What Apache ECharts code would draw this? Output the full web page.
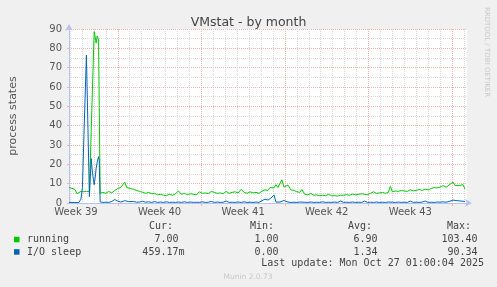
<!DOCTYPE html>
<html><head><meta charset="utf-8">
<script src="https://cdn.jsdelivr.net/npm/echarts@6/dist/echarts.min.js"></script>
<style>html,body{margin:0;padding:0;background:#f0f0f0}#c{width:497px;height:287px}</style>
</head><body><div id="c"></div>
<script>
// time in hours since the left edge of the graph
const hours = [
  0,6,12,16,20,24,27,30,35,38,41,44.6,47,50.6,52.6,54.6,56.6,59.4,60.8,62.6,64.5,
  68,74,80,86,92,98,104,
  108,112,116,120,124,
  130,136,142,148,154,160,166,172,178,184,190,196,202,208,214,220,226,232,238,244,250,256,262,268,274,280,286,292,298,304,310,316,322,328,334,340,346,
  352,358,364,370,376,382,388,394,400,
  404,408,412,416,420,424,428,432,436,440,
  446,452,458,464,468,
  474,480,486,492,498,504,510,516,522,528,534,540,546,552,558,564,570,576,582,588,594,600,606,612,618,624,630,636,642,
  646,650,
  656,662,668,674,680,686,692,698,704,710,716,722,728,734,740,746,752,758,764,
  768,772,776,780,784,788,792,796
];
const running = [
  8.0,7.6,7.0,4.8,4.5,6.0,5.5,5.8,6.0,5.5,6.0,37,58,88.6,86,82.7,86.4,84.3,84,5.0,5.2,
  5.5,5.0,6.0,5.2,6.5,7.5,8.0,
  7.0,10.8,8.0,9.0,7.5,
  7.0,6.5,6.0,5.5,5.0,5.5,4.8,5.0,4.2,4.5,4.0,3.8,4.5,4.0,4.8,6.2,4.5,5.0,4.3,4.8,4.5,4.2,5.8,5.0,5.2,4.8,6.0,5.5,5.0,5.2,4.8,6.0,5.0,5.5,5.8,5.2,7.0,
  5.5,5.0,5.8,5.2,5.5,5.0,6.2,6.8,6.5,
  8.0,8.5,7.8,9.5,8.0,9.0,12.0,8.2,8.8,9.3,
  6.8,6.5,5.8,5.5,7.0,
  4.5,4.2,5.0,4.0,4.2,3.8,4.0,3.8,4.5,3.7,3.8,3.6,4.0,4.0,4.3,4.0,4.6,4.2,4.5,4.8,4.5,4.3,5.0,5.8,5.0,5.2,5.5,5.0,5.5,
  8.6,5.8,
  6.2,6.0,6.5,6.2,6.0,6.8,6.3,6.5,7.0,6.5,7.2,6.8,7.5,8.0,7.8,8.3,9.0,8.2,9.3,
  9.0,10.8,9.0,9.5,9.0,9.3,9.5,7.2
];
const ioSleep = [
  0.3,0.3,0.2,0.2,0.3,2.0,8.0,35,76.5,40,3.3,23,16,9.5,13,18,21,24,22,0.6,0.4,
  0.3,0.4,0.3,0.8,1.8,1.0,0.5,
  0.6,1.2,0.5,0.7,0.4,
  0.8,0.4,0.5,0.9,0.4,0.6,0.3,0.7,0.3,0.5,0.3,0.6,0.3,0.4,0.3,0.5,0.3,0.6,0.3,0.5,0.3,0.4,0.3,0.6,0.3,0.4,0.8,0.3,0.5,0.3,0.4,1.0,0.3,0.4,0.3,0.5,0.3,
  0.6,0.3,0.4,0.3,0.5,0.3,1.2,2.0,1.5,
  2.5,3.0,4.2,0.5,0.6,0.5,0.8,1.3,0.4,0.5,
  0.3,0.4,0.3,0.5,0.3,
  0.4,0.3,0.5,0.3,0.4,0.3,0.6,0.3,0.4,0.3,0.5,0.3,1.0,0.3,0.4,0.3,0.5,0.3,0.4,0.3,1.0,0.3,0.4,0.3,0.5,0.3,0.4,0.3,0.5,
  1.0,0.4,
  0.3,0.5,0.3,0.4,0.3,1.0,0.3,0.4,0.3,0.5,1.0,0.3,0.4,0.3,0.5,0.4,0.6,0.4,0.8,
  1.2,1.5,1.3,1.2,1.4,1.0,1.2,0.8
];
const weekLabels = ['Week 39','Week 40','Week 41','Week 42','Week 43'];
const seriesNames = ['running','I/O sleep'];
const statHeaders = ['Cur:','Min:','Avg:','Max:'];
const runningStats = ['7.00','1.00','6.90','103.40'];
const ioSleepStats = ['459.17m','0.00','1.34','90.34'];
const lastUpdate = 'Last update: Mon Oct 27 01:00:04 2025';

const GREEN = '#00cc00', BLUE = '#0066b3';
const RED_GRID = '#f0b0b0', GREY_GRID = '#d8d8d8', AXIS = '#b8c2f0';
const TOTAL_H = 800;          // hours shown
const SLOT_H = 2;             // scaffold slot length (hours)
const FIRST_DAY_H = 2, FIRST_MONDAY_H = 98, WEEK_H = 168;
const slots = [];
for (let h = 0; h <= TOTAL_H; h += SLOT_H) slots.push(String(h));
const isDay = i => ((i * SLOT_H - FIRST_DAY_H) % 24 + 24) % 24 === 0;
const isMonday = i => ((i * SLOT_H - FIRST_MONDAY_H) % WEEK_H + WEEK_H) % WEEK_H === 0;
const isMidWeek = i => ((i * SLOT_H - (FIRST_MONDAY_H - WEEK_H / 2)) % WEEK_H + WEEK_H) % WEEK_H === 0;

const chart = echarts.init(document.getElementById('c'), null, {renderer: 'canvas'});
const MONO = '"DejaVu Sans Mono", monospace';
const SANS = '"DejaVu Sans", sans-serif';

const graphics = [];
const colLeft = [149, 250, 348, 447];
const colRight = [178.5, 278.5, 377.5, 477.5];
statHeaders.forEach((t, i) => graphics.push({type: 'text', style: {text: t, x: colLeft[i], y: 226.5, fill: '#444', font: '10px ' + MONO, align: 'left', verticalAlign: 'middle'}}));
[[runningStats, GREEN, 239.8], [ioSleepStats, BLUE, 252.2]].forEach(([vals, col, y], r) => {
  graphics.push({type: 'rect', shape: {x: 14, y: y - 3, width: 5.5, height: 5.5}, style: {fill: col}});
  graphics.push({type: 'text', style: {text: seriesNames[r], x: 27, y: y, fill: '#444', font: '10px ' + MONO, align: 'left', verticalAlign: 'middle'}});
  vals.forEach((v, i) => {
    const hasUnit = /[a-zA-Z]$/.test(v);
    graphics.push({type: 'text', style: {text: v, x: colRight[i] + (hasUnit ? 6 : 0), y: y, fill: '#444', font: '10px ' + MONO, align: 'right', verticalAlign: 'middle'}});
  });
});
graphics.push({type: 'text', style: {text: lastUpdate, x: 484, y: 263.8, fill: '#444', font: '10px ' + MONO, align: 'right', verticalAlign: 'middle'}});
graphics.push({type: 'text', style: {text: 'Munin 2.0.73', x: 248, y: 277, fill: '#c8c8c8', font: '7.5px ' + SANS, align: 'center', verticalAlign: 'middle'}});
graphics.push({type: 'text', x: 487, y: 52, rotation: -Math.PI / 2, style: {text: 'RRDTOOL / TOBI OETIKER', x: 0, y: 0, fill: '#c8c8c8', font: '7px ' + SANS, align: 'center', verticalAlign: 'middle'}});

const option = {
  backgroundColor: '#f0f0f0',
  animation: false,
  title: {text: 'VMstat - by month', left: 'center', top: 11,
    textStyle: {fontFamily: SANS, fontSize: 12.5, fontWeight: 'normal', color: '#444'}},
  grid: {left: 67, right: 30, top: 29, bottom: 84, show: true, backgroundColor: '#ffffff', borderWidth: 0, containLabel: false},
  xAxis: [
    {type: 'value', min: 0, max: TOTAL_H, position: 'bottom',
      axisLine: {show: true, lineStyle: {color: AXIS}, symbol: ['none', 'arrow'], symbolSize: [6, 7], symbolOffset: [0, 5]},
      axisTick: {show: false}, axisLabel: {show: false}, splitLine: {show: false}},
    {type: 'category', data: slots, boundaryGap: false, position: 'bottom',
      axisLine: {show: false}, axisTick: {show: false}, axisLabel: {show: false},
      splitLine: {show: true, interval: (i) => isDay(i) && !isMonday(i), lineStyle: {color: GREY_GRID, type: [1, 1], width: 1}}},
    {type: 'category', data: slots, boundaryGap: false, position: 'bottom',
      axisLine: {show: false},
      axisTick: {show: true, interval: (i) => isMonday(i), length: 3, lineStyle: {color: RED_GRID}},
      axisLabel: {show: true, interval: (i) => isMidWeek(i), margin: 4, color: '#555', fontSize: 10, fontFamily: SANS,
        formatter: (v, i) => weekLabels[Math.round((i * SLOT_H - (FIRST_MONDAY_H - WEEK_H / 2)) / WEEK_H)] || ''},
      splitLine: {show: true, interval: (i) => isMonday(i), lineStyle: {color: RED_GRID, type: [1, 1], width: 1}}}
  ],
  yAxis: {type: 'value', min: 0, max: 90, interval: 10,
    name: 'process states', nameLocation: 'middle', nameGap: 50, nameRotate: 90,
    nameTextStyle: {color: '#555', fontSize: 11, fontFamily: SANS},
    axisLine: {show: true, lineStyle: {color: AXIS}, symbol: ['none', 'arrow'], symbolSize: [6, 7], symbolOffset: [0, 5]},
    axisTick: {show: true, length: 2, lineStyle: {color: RED_GRID}},
    minorTick: {show: false, splitNumber: 2},
    axisLabel: {color: '#555', fontSize: 10, margin: 7, fontFamily: SANS},
    splitLine: {show: true, lineStyle: {color: RED_GRID, type: [1, 1], width: 1}},
    minorSplitLine: {show: true, lineStyle: {color: GREY_GRID, type: [1, 1], width: 1}}},
  series: [
    {name: seriesNames[0], type: 'line', xAxisIndex: 0, yAxisIndex: 0, showSymbol: false, symbol: 'none',
      lineStyle: {color: GREEN, width: 1}, itemStyle: {color: GREEN}, data: hours.map((h, i) => [h, running[i]]), z: 3},
    {name: seriesNames[1], type: 'line', xAxisIndex: 0, yAxisIndex: 0, showSymbol: false, symbol: 'none',
      lineStyle: {color: BLUE, width: 1}, itemStyle: {color: BLUE}, data: hours.map((h, i) => [h, ioSleep[i]]), z: 4}
  ],
  graphic: graphics
};
chart.setOption(option);
</script></body></html>
